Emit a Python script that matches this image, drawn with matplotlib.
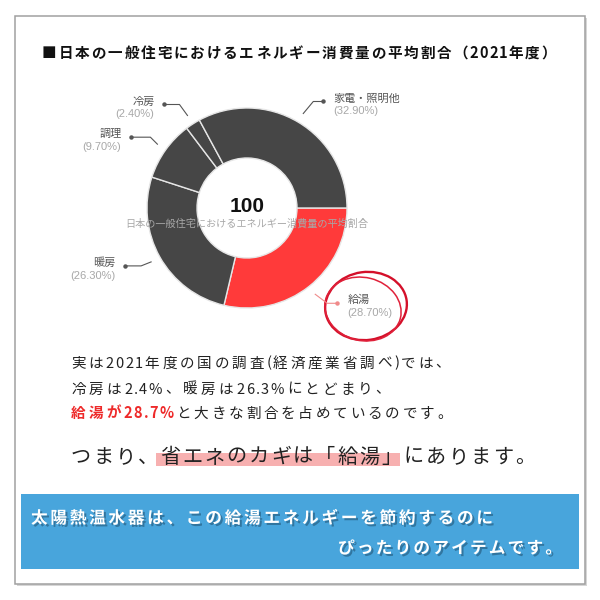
import numpy as np
import matplotlib
matplotlib.use('Agg')
import matplotlib.pyplot as plt
import matplotlib.patches as mpatches
import matplotlib.patheffects as pe
from matplotlib import font_manager
from matplotlib.ft2font import FT2Font

plt.rcParams['font.family'] = ['Noto Sans CJK JP', 'DejaVu Sans']

# data
categories = ['給湯', '暖房', '調理', '冷房', '家電・照明他']
shares = [28.7, 26.3, 9.7, 2.4, 32.9]
wedge_colors = ['#ff3a3a', '#464646', '#464646', '#464646', '#464646']
leader_colors = ['#f08a8a', '#555555', '#555555', '#555555', '#555555']

title = '■日本の一般住宅におけるエネルギー消費量の平均割合（2021年度）'
center_value = '100'
center_caption = '日本の一般住宅におけるエネルギー消費量の平均割合'

body_1 = '実は2021年度の国の調査(経済産業省調べ)では、'
body_2 = '冷房は2.4%、暖房は26.3%にとどまり、'
body_3_red = '給湯が28.7%'
body_3_rest = 'と大きな割合を占めているのです。'
key_pre = 'つまり、'
key_mark = '省エネのカギは「給湯」'
key_post = 'にあります。'
banner_1 = '太陽熱温水器は、この給湯エネルギーを節約するのに'
banner_2 = 'ぴったりのアイテムです。'

# leader line shape per label: elbow offset from ring and horizontal run (px)
leader_elbow = {'給湯': (12, 9, 10), '暖房': (-10, 4, -16), '調理': (-7, -7, -19),
                '冷房': (-8, -11, -15), '家電・照明他': (10, -12, 10)}

fig = plt.figure(figsize=(6, 6), dpi=100)

ax_bg = fig.add_axes([0, 0, 1, 1], zorder=0)
ax_bg.set_xlim(0, 600)
ax_bg.set_ylim(600, 0)
ax_bg.axis('off')

# card frame + shadow
ax_bg.add_patch(mpatches.Rectangle((17, 18), 570, 568, fc='#d6d6d6', ec='none'))
ax_bg.add_patch(mpatches.Rectangle((15, 16), 570, 568, fc='white', ec='#a0a0a0', lw=1.1))
# blue banner
ax_bg.add_patch(mpatches.Rectangle((21, 494), 558, 75, fc='#48a5dc', ec='none'))
# pink marker under key phrase
ax_bg.add_patch(mpatches.Rectangle((156, 453), 244, 13, fc='#f7b0b0', ec='none'))

# donut
cx, cy, R = 247, 208, 100
ax_pie = fig.add_axes([(cx - R) / 600, 1 - (cy + R) / 600, 2 * R / 600, 2 * R / 600], zorder=1)
ax_pie.pie(shares, colors=wedge_colors, startangle=0, counterclock=False,
           wedgeprops=dict(width=0.5, edgecolor='#e6e6e6', linewidth=1))
ax_pie.set_xlim(-1, 1)
ax_pie.set_ylim(-1, 1)
ax_pie.axis('off')

ax = fig.add_axes([0, 0, 1, 1], zorder=2)
ax.set_xlim(0, 600)
ax.set_ylim(600, 0)
ax.axis('off')
ax.patch.set_visible(False)

_fonts = {}


def advance(ch, size, weight):
    if weight not in _fonts:
        path = font_manager.findfont(
            font_manager.FontProperties(family='Noto Sans CJK JP', weight=weight))
        _fonts[weight] = FT2Font(path)
    f = _fonts[weight]
    f.set_size(size, 100)
    g = f.load_char(ord(ch))
    return g.linearHoriAdvance / 65536


def spaced_text(x0, x1, yc, parts, size, **common):
    # draw char by char; spacing scaled by glyph advance so digits stay tighter
    em = size * 100 / 72
    chars = []
    for s, props in parts:
        w = props.get('weight', common.get('weight', 'normal'))
        for ch in s:
            chars.append((ch, props, advance(ch, size, w)))
    total = sum(c[2] for c in chars)
    weights = sum(c[2] / em for c in chars[:-1])
    g = (x1 - x0 - total) / max(weights, 1e-6)
    x = x0
    base = yc + 0.38 * em
    for ch, props, adv in chars:
        kw = dict(common)
        kw.update(props)
        ax.text(x, base, ch, fontsize=size, ha='left', va='baseline',
                family='Noto Sans CJK JP', **kw)
        x += adv + g * adv / em


spaced_text(42, 556, 52, [(title, {})], 10.5, weight='bold', color='#111111')

# leader lines + labels
cum = np.concatenate([[0], np.cumsum(shares)[:-1]])
mids = -np.radians((cum + np.array(shares) / 2) * 3.6)
for name, v, m, lc in zip(categories, shares, mids, leader_colors):
    sx = cx + R * 1.1 * np.cos(m)
    sy = cy - R * 1.1 * np.sin(m)
    edx, edy, run = leader_elbow[name]
    ex, ey = sx + edx, sy + edy
    dx = ex + run
    ax.plot([sx, ex, dx], [sy, ey, ey], color=lc, lw=0.8)
    ax.plot([dx], [ey], 'o', ms=2.2, color=lc)
    side = 1 if run > 0 else -1
    tx = dx + 10 * side
    ha = 'left' if side > 0 else 'right'
    ax.text(tx, ey - 3, name, fontsize=8, color='#555555', ha=ha, va='center')
    ax.text(tx, ey + 10, f'({v:.2f}%)', fontsize=8, color='#a8a8a8', ha=ha, va='center',
            family=['Liberation Sans', 'DejaVu Sans'])

# centre of donut
ax.text(cx, 206, center_value, fontsize=15, weight='bold', color='#111111',
        ha='center', va='center', family=['Liberation Sans', 'DejaVu Sans'])
ax.text(cx, 224, center_caption, fontsize=7.3, color='#a8a8a8', ha='center', va='center')

# hand-drawn red circle around 給湯
ax.add_patch(mpatches.Ellipse((366, 306), 82, 68, angle=-8, fill=False, ec='#d4102a', lw=1.7))
ax.add_patch(mpatches.Ellipse((363, 309), 77, 63, angle=14, fill=False, ec='#e0213a', lw=1.1))

# body text
spaced_text(71, 450, 362, [(body_1, {})], 10.5, color='#222222')
spaced_text(71, 390, 388, [(body_2, {})], 10.5, color='#222222')
spaced_text(71, 452, 412, [(body_3_red, {'color': '#ee2a2a', 'weight': 'bold'}),
                           (body_3_rest, {'color': '#222222'})], 10.5)
spaced_text(71, 535, 455, [(key_pre, {}), (key_mark, {}), (key_post, {})], 14.5,
            color='#222222')

shadow = [pe.withSimplePatchShadow(offset=(1.5, -1.5), shadow_rgbFace='#1f4f6e', alpha=0.55)]
spaced_text(31, 493, 517, [(banner_1, {})], 12, weight='bold', color='white',
            path_effects=shadow)
spaced_text(338, 562, 547, [(banner_2, {})], 12, weight='bold', color='white',
            path_effects=shadow)

fig.savefig('out.png', dpi=100)
